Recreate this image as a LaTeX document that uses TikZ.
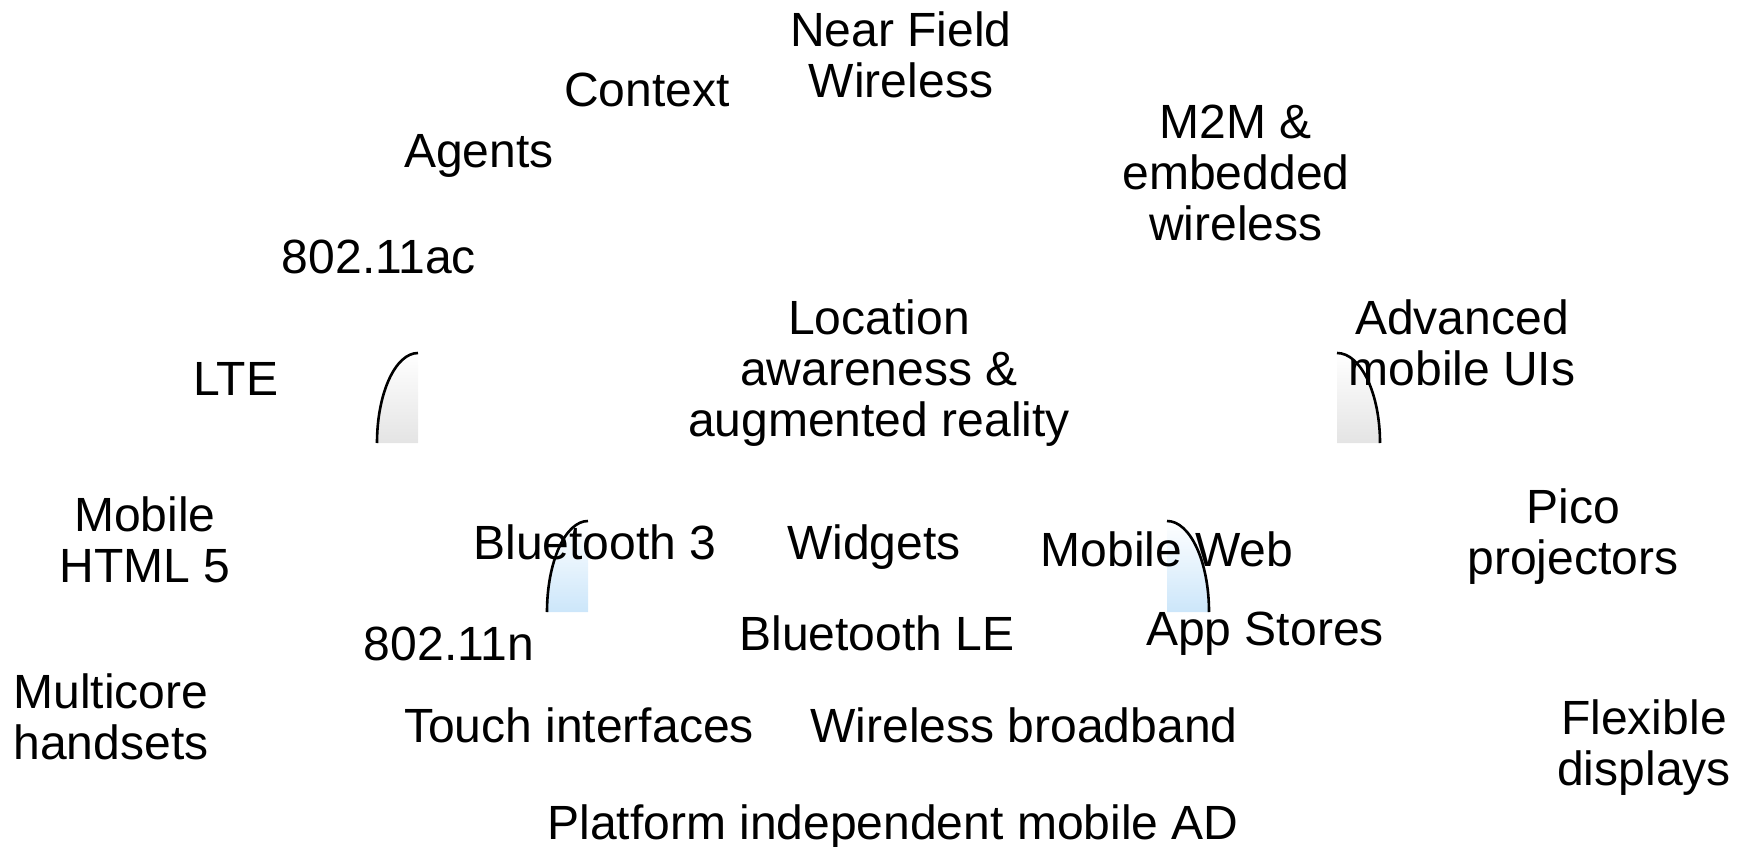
\documentclass[tikz,border=0pt]{standalone}
\usepackage{fontspec}
\setmainfont{Liberation Sans}
\definecolor{fadegray}{HTML}{E4E4E4}
\definecolor{fadeblue}{HTML}{CCE6FA}
\begin{document}
\begin{tikzpicture}[x=1bp,y=-1bp,
  term/.style={inner sep=0pt, align=center, anchor=base,
    font=\fontsize{48.2pt}{51pt}\selectfont},
  rim/.style={line width=2.6bp}]
\useasboundingbox (0,0) rectangle (1746,847);

% shaded quarter-ellipse fins
\shade[top color=white, bottom color=fadegray]
  (377,443) .. controls (377,393.3) and (395.4,353) .. (418,353) -- (418,443) -- cycle;
\shade[top color=white, bottom color=fadegray]
  (1337,353) .. controls (1360.7,353) and (1380,393.3) .. (1380,443) -- (1337,443) -- cycle;
\shade[top color=white, bottom color=fadeblue]
  (547,612) .. controls (547,561.7) and (565.4,521) .. (588,521) -- (588,612) -- cycle;
\shade[top color=white, bottom color=fadeblue]
  (1167,521) .. controls (1190.2,521) and (1209,561.7) .. (1209,612) -- (1167,612) -- cycle;

% technology labels
\node[term] (nfw) at (901,97) {Near Field\\Wireless};
\node[term] (ctx) at (647,106) {Context};
\node[term] (agt) at (479,167) {Agents};
\node[term] (m2m) at (1236,240) {M2M \&\\embedded\\wireless};
\node[term] (ac) at (379,273) {802.11ac};
\node[term] (loc) at (879,436) {Location\\awareness \&\\augmented reality};
\node[term] (ui) at (1462,385) {Advanced\\mobile UIs};
\node[term] (lte) at (236,395) {LTE};
\node[term] (html) at (145,582) {Mobile\\HTML 5};
\node[term] (bt3) at (595,559) {Bluetooth 3};
\node[term] (wdg) at (874,559) {Widgets};
\node[term] (web) at (1167,566) {Mobile Web};
\node[term] (pico) at (1573,574) {Pico\\projectors};
\node[term] (n) at (449,660) {802.11n};
\node[term] (ble) at (877,650) {Bluetooth LE};
\node[term] (app) at (1265,645) {App Stores};
\node[term] (mc) at (111,759) {Multicore\\handsets};
\node[term] (touch) at (579,742) {Touch interfaces};
\node[term] (wbb) at (1024,742) {Wireless broadband};
\node[term] (flex) at (1644,785) {Flexible\\displays};
\node[term] (ad) at (893,839) {Platform independent mobile AD};

% fin outlines
\draw[rim] (377,443) .. controls (377,393.3) and (395.4,353) .. (418,353);
\draw[rim] (1337,353) .. controls (1360.7,353) and (1380,393.3) .. (1380,443);
\draw[rim] (547,612) .. controls (547,561.7) and (565.4,521) .. (588,521);
\draw[rim] (1167,521) .. controls (1190.2,521) and (1209,561.7) .. (1209,612);
\end{tikzpicture}
\end{document}
